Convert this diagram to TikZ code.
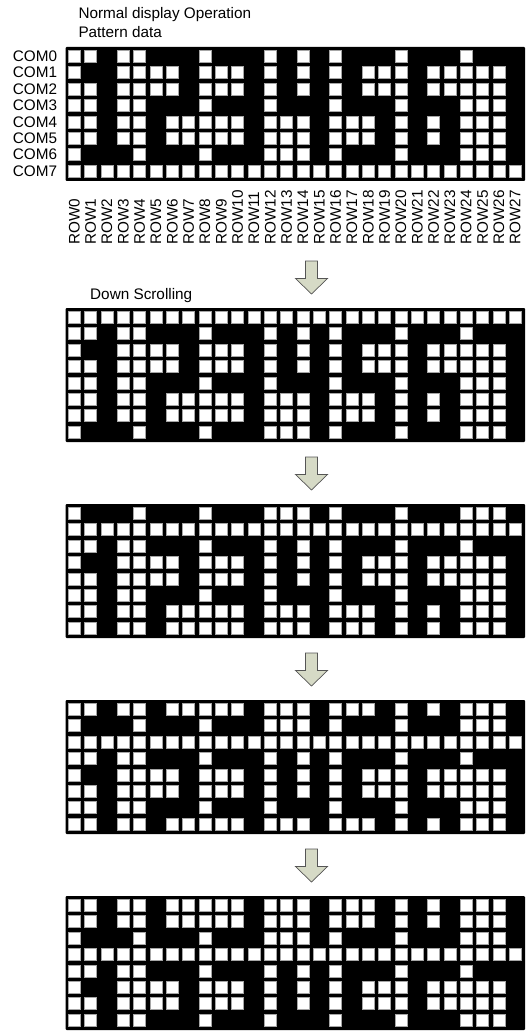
\documentclass[tikz,border=0pt]{standalone}
\usepackage{fontspec}
\setmainfont{Liberation Sans}
\definecolor{arrowfill}{RGB}{214,218,198}
\definecolor{arrowline}{RGB}{85,85,85}

% lit (white) columns of each COM line in the normal pattern
\newcommand{\comrow}[1]{%
  \ifcase#1 0,1,3,4,8,12,14,16,20,24%
  \or 0,3,4,5,6,8,9,10,12,14,16,18,19,20,22,23,24,25,26%
  \or 0,1,3,4,5,6,8,9,10,12,14,16,18,19,20,22,23,24,25,26%
  \or 0,1,3,4,8,12,16,20,24,25,26%
  \or 0,1,3,4,6,7,8,9,10,12,13,14,16,17,18,20,22,24,25,26%
  \or 0,1,3,4,6,7,8,9,10,12,13,14,16,17,18,20,22,24,25,26%
  \or 0,4,8,12,13,14,16,20,24,25,26%
  \else 0,1,2,...,27%
  \fi}

\begin{document}
\begin{tikzpicture}[
    x=1pt, y=-1pt,
    every node/.style={font=\fontsize{15.3}{18}\selectfont, inner sep=0pt},
    panel/.style={fill=black, rounded corners=1pt},
    pixel/.style={fill=white, draw=gray!70, line width=0.6pt},
    comlabel/.style={anchor=east},
    rowlabel/.style={anchor=west, rotate=90},
    blockarrow/.style={fill=arrowfill, draw=arrowline, line width=0.7pt, line join=miter}
]
    \useasboundingbox (0,0) rectangle (527,1032);

    % --- TITLES ---
    \node[anchor=base west] (title) at (78.3,19) {Normal display Operation};
    \node[anchor=base west] (subtitle) at (78.3,37.7) {Pattern data};
    \node[anchor=base west] (scrolltitle) at (90,299) {Down Scrolling};

    % --- PANELS (each one scrolled down by one more line) ---
    \foreach \gi/\gy in {0/47,1/308,2/504,3/700,4/896} {
        \fill[panel] (65.7,\gy) rectangle ++(459.3,134);
        \foreach \dr in {0,...,7} {
            \pgfmathtruncatemacro\sr{mod(\dr-\gi+8,8)}
            \edef\whitecols{\comrow{\sr}}
            \foreach \cx in \whitecols
                \draw[pixel] (68.3+16.33*\cx,\gy+3.3+16.4*\dr) rectangle ++(12,12);
        }
    }

    % --- COM / ROW LABELS ---
    \foreach \dr in {0,...,7}
        \node[comlabel] (com\dr) at (57.3,56.3+16.4*\dr) {COM\dr};
    \foreach \cx in {0,...,27}
        \node[rowlabel] (row\cx) at (74.3+16.33*\cx,245) {ROW\cx};

    % --- SCROLL ARROWS ---
    \foreach \ay in {261,457,653,849}
        \draw[blockarrow] (305.5,\ay) -- ++(12,0) -- ++(0,17.5) -- ++(10,0)
            -- ++(-16,15.5) -- ++(-16,-15.5) -- ++(10,0) -- cycle;
\end{tikzpicture}
\end{document}
